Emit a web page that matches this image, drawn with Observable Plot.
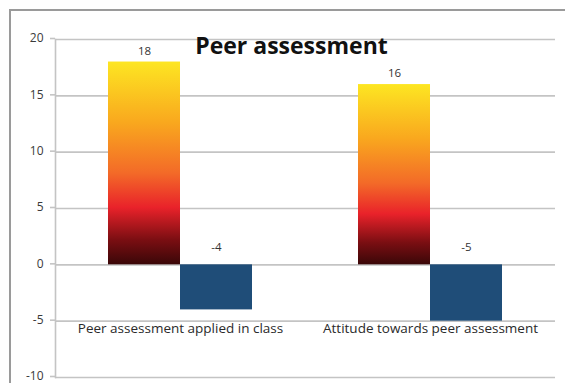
<!DOCTYPE html>
<html>
<head>
<meta charset="utf-8">
<script src="https://cdn.jsdelivr.net/npm/d3@7"></script>
<script src="https://cdn.jsdelivr.net/npm/@observablehq/plot@0.6"></script>
<style>
  html, body { margin: 0; padding: 0; background: #fff; overflow: hidden; }
  #wrap { position: relative; width: 565px; height: 383px; overflow: hidden; }
  #border { position: absolute; left: 9px; top: 9px; width: 620px; height: 420px; border: 2px solid #9a9a9a; box-sizing: border-box; }
  #chart { position: absolute; left: 0; top: 0; }
</style>
</head>
<body>
<div id="wrap"><div id="border"></div><div id="chart"></div></div>
<script>
const title = "Peer assessment";
const categories = ["Peer assessment applied in class", "Attitude towards peer assessment"];
const positiveValues = [18, 16];
const negativeValues = [-4, -5];
const yTicks = [-10, -5, 0, 5, 10, 15, 20];

const posData = categories.map((c, i) => ({category: c, value: positiveValues[i]}));
const negData = categories.map((c, i) => ({category: c, value: negativeValues[i]}));

const font = "'Open Sans', 'Liberation Sans', sans-serif";

const plot = Plot.plot({
  width: 565,
  height: 383,
  marginLeft: 55,
  marginRight: 10,
  marginTop: 39,
  marginBottom: 6,
  style: {fontFamily: font, background: "transparent"},
  x: {domain: categories, paddingInner: 0.424, paddingOuter: 0.212, axis: null},
  y: {domain: [-10, 20], axis: null},
  marks: [
    Plot.ruleY(yTicks, {stroke: "#c4c4c4", strokeWidth: 1.6}),
    Plot.axisY({ticks: yTicks, tickFormat: d => String(d), label: null, tickSize: 5, tickPadding: 7, stroke: "#c4c4c4", strokeWidth: 1.6, fill: "#3a3a3a", fontSize: 12, textStroke: "none", dy: -1}),
    Plot.frame({anchor: "left", stroke: "#c4c4c4", strokeWidth: 1.6}),
    Plot.barY(posData, {x: "category", y: "value", fill: "url(#warmGrad)", insetRight: 72}),
    Plot.barY(negData, {x: "category", y: "value", fill: "#1f4d78", insetLeft: 72}),
    Plot.text(posData, {x: "category", y: "value", text: d => String(d.value), dx: -36, dy: -11, fontSize: 11.5, fill: "#333"}),
    Plot.text(negData, {x: "category", y: () => 0, text: d => String(d.value), dx: 36, dy: -18, fontSize: 11.5, fill: "#333"}),
    Plot.text(categories, {x: d => d, y: () => -5, dy: 8, fontSize: 13.5, fill: "#2a2a2a"}),
    Plot.text([title], {frameAnchor: "top", dx: -14, dy: -2, fontSize: 23, fontWeight: "bold", fill: "#111"})
  ]
});

// gradient definition for the warm bars
const ns = "http://www.w3.org/2000/svg";
const defs = document.createElementNS(ns, "defs");
const grad = document.createElementNS(ns, "linearGradient");
grad.setAttribute("id", "warmGrad");
grad.setAttribute("x1", "0"); grad.setAttribute("y1", "0");
grad.setAttribute("x2", "0"); grad.setAttribute("y2", "1");
[[0, "#fde622"], [0.3, "#f9a81e"], [0.55, "#f36a28"], [0.72, "#e9222a"], [0.88, "#7a0e12"], [1, "#3a0708"]].forEach(([o, c]) => {
  const s = document.createElementNS(ns, "stop");
  s.setAttribute("offset", o);
  s.setAttribute("stop-color", c);
  grad.appendChild(s);
});
defs.appendChild(grad);
plot.insertBefore(defs, plot.firstChild);

document.getElementById("chart").appendChild(plot);
</script>
</body>
</html>
